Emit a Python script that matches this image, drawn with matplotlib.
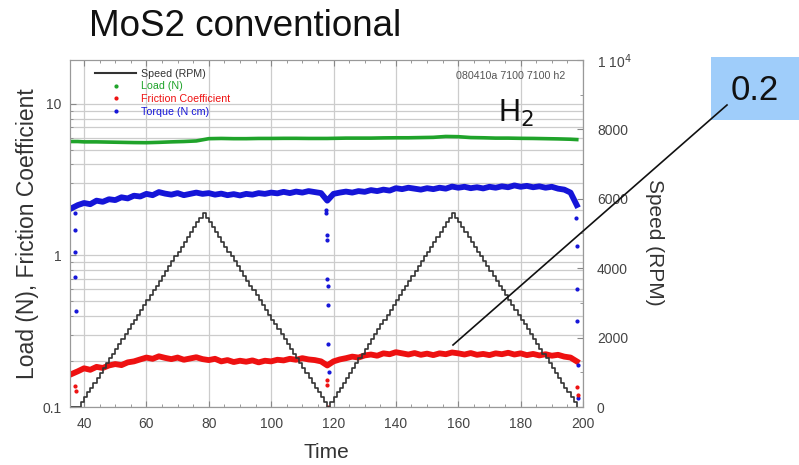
import matplotlib
matplotlib.use("Agg")
import matplotlib.pyplot as plt
from matplotlib.ticker import MultipleLocator, LogLocator, NullFormatter, FixedLocator, FixedFormatter
from matplotlib.lines import Line2D

plt.rcParams['font.family'] = ['Liberation Sans', 'DejaVu Sans']

# ---------------- data ----------------
t_load = [36, 38, 40, 44, 48, 52, 56, 60, 64, 68, 72, 76, 80, 84, 88, 92, 96, 100, 104, 108,
          112, 116, 118, 120, 124, 128, 132, 136, 140, 144, 148, 152, 156, 160, 164, 168, 172,
          176, 180, 184, 188, 192, 196, 198]
load = [5.65, 5.65, 5.62, 5.62, 5.6, 5.58, 5.56, 5.55, 5.58, 5.62, 5.65, 5.7, 5.9, 5.92, 5.9, 5.9,
        5.92, 5.92, 5.93, 5.93, 5.92, 5.92, 5.92, 5.93, 5.95, 5.95, 5.95, 5.97, 5.98, 5.98, 6.0,
        6.02, 6.1, 6.08, 6.0, 5.98, 5.95, 5.95, 5.93, 5.92, 5.9, 5.88, 5.85, 5.82]

t = list(range(36, 199, 2))
friction = [0.165, 0.172, 0.18, 0.176, 0.184, 0.181, 0.188, 0.192, 0.189, 0.197,
            0.2, 0.206, 0.212, 0.208, 0.216, 0.211, 0.207, 0.212, 0.205, 0.209,
            0.213, 0.207, 0.204, 0.208, 0.2, 0.204, 0.198, 0.202, 0.199, 0.203,
            0.197, 0.202, 0.2, 0.205, 0.203, 0.208, 0.205, 0.21, 0.206, 0.204,
            0.2, 0.188, 0.2, 0.206, 0.21, 0.215, 0.212, 0.219, 0.222, 0.218,
            0.226, 0.223, 0.23, 0.226, 0.222, 0.227, 0.221, 0.225, 0.22, 0.226,
            0.223, 0.229, 0.226, 0.222, 0.227, 0.221, 0.224, 0.22, 0.226, 0.223,
            0.228, 0.222, 0.226, 0.22, 0.224, 0.219, 0.223, 0.218, 0.221, 0.215,
            0.212, 0.2]
torque = [2.05, 2.15, 2.22, 2.18, 2.3, 2.26, 2.35, 2.32, 2.42, 2.38,
          2.48, 2.45, 2.55, 2.5, 2.62, 2.56, 2.52, 2.58, 2.5, 2.55,
          2.6, 2.55, 2.58, 2.52, 2.56, 2.5, 2.54, 2.49, 2.55, 2.52,
          2.58, 2.55, 2.6, 2.57, 2.63, 2.58, 2.64, 2.6, 2.66, 2.62,
          2.58, 2.3, 2.55, 2.6, 2.64, 2.6, 2.66, 2.63, 2.7, 2.66,
          2.72, 2.68, 2.78, 2.74, 2.8, 2.76, 2.72, 2.78, 2.74, 2.8,
          2.76, 2.85, 2.8, 2.84, 2.78, 2.82, 2.77, 2.84, 2.8, 2.86,
          2.82, 2.9, 2.84, 2.88, 2.82, 2.86, 2.8, 2.84, 2.76, 2.72,
          2.6, 2.15]

# outlier points
torque_out_t = [37, 37, 37.2, 37.2, 37.5, 117.5, 117.6, 117.8, 117.8, 118, 118.2, 118.2, 118.3, 118.4,
                197.8, 198, 198, 198.2, 198.3, 198.4]
torque_out_v = [1.91, 1.48, 1.05, 0.72, 0.43, 2.0, 1.91, 1.37, 1.27, 0.70, 0.63, 0.47, 0.26, 0.17,
                1.77, 1.15, 0.6, 0.37, 0.19, 0.115]
fric_out_t = [37, 37.3, 117.8, 118, 118.3, 198.2, 198.5]
fric_out_v = [0.138, 0.127, 0.15, 0.14, 0.1, 0.135, 0.12]

# speed staircase: one-second steps of the ramp (up levels, reused for each ramp)
ramp_up = [0, 140, 280, 420, 560, 700, 840, 980, 1120, 1260, 1400, 1540, 1680, 1820, 1960,
           2100, 2240, 2380, 2520, 2660, 2800, 2940, 3080, 3220, 3360, 3500, 3640, 3780, 3920,
           4060, 4200, 4340, 4480, 4620, 4760, 4900, 5040, 5180, 5320, 5460, 5600]
ramp_down = ramp_up[::-1]
speed_v = [0] + ramp_up + ramp_down[1:] + ramp_up[1:] + ramp_down[1:]
speed_t = [35.5] + list(range(38, 199))

x_ticks = [40, 60, 80, 100, 120, 140, 160, 180, 200]
right_ticks = [0, 2000, 4000, 6000, 8000, 10000]
right_labels = ["0", "2000", "4000", "6000", "8000", "1 10$^4$"]

# ---------------- figure ----------------
fig = plt.figure(figsize=(7.99, 4.65), dpi=100)
ax = fig.add_axes([70 / 799, 1 - 407 / 465, (583 - 70) / 799, (407 - 60) / 465])
ax2 = ax.twinx()

GREEN = "#1fa32a"
RED = "#ee1111"
BLUE = "#1515d8"
TICKC = "#444444"

ax.set_yscale("log")
ax.set_xlim(35.5, 200)
ax.set_ylim(0.1, 19.5)
ax2.set_ylim(0, 10000)

# grid
ax.xaxis.set_major_locator(FixedLocator(x_ticks))
ax.xaxis.set_minor_locator(MultipleLocator(5))
ax.yaxis.set_minor_locator(LogLocator(base=10, subs=range(2, 10), numticks=20))
ax.yaxis.set_minor_formatter(NullFormatter())
ax.yaxis.set_major_locator(FixedLocator([0.1, 1, 10]))
ax.yaxis.set_major_formatter(FixedFormatter(["0.1", "1", "10"]))
ax.grid(True, which="major", axis="x", color="#cccccc", lw=0.9)
ax.grid(True, which="both", axis="y", color="#cccccc", lw=0.9)
ax.set_axisbelow(True)

# series on the log axis
ax.plot(t_load, load, color=GREEN, lw=2.6, solid_joinstyle="round", zorder=3)
ax.plot(t, torque, color=BLUE, lw=4.2, solid_joinstyle="round", zorder=3)
ax.plot(t, friction, color=RED, lw=4.2, solid_joinstyle="round", zorder=3)
ax.plot(torque_out_t, torque_out_v, ls="none", marker="o", ms=2, color=BLUE, zorder=3)
ax.plot(fric_out_t, fric_out_v, ls="none", marker="o", ms=2, color=RED, zorder=3)

# speed on the right axis
ax2.plot(speed_t, speed_v, drawstyle="steps-post", color="#333333", lw=1.2, zorder=2)
ax2.yaxis.set_major_locator(FixedLocator(right_ticks))
ax2.yaxis.set_major_formatter(FixedFormatter(right_labels))
ax2.yaxis.set_minor_locator(MultipleLocator(1000))

for a in (ax, ax2):
    a.tick_params(which="both", direction="in", colors="#888888", labelcolor=TICKC, labelsize=10)
    a.tick_params(which="major", length=4)
    a.tick_params(which="minor", length=2.5)
    for s in a.spines.values():
        s.set_color("#999999")
ax.tick_params(axis="x", which="both", top=True, pad=7)
ax.tick_params(axis="y", pad=6)
ax2.tick_params(axis="y", pad=10)

ax.set_xlabel("Time", fontsize=15, color="#333333", labelpad=9)
ax.set_ylabel("Load (N), Friction Coefficient", fontsize=16.5, color="#333333")
ax.yaxis.set_label_coords(-0.06, 0.5)
ax2.set_ylabel("Speed (RPM)", fontsize=15, color="#333333", rotation=270, va="center")
ax2.yaxis.set_label_coords(1.14, 0.475)

# legend
handles = [Line2D([], [], color="#333333", lw=1.5),
           Line2D([], [], ls="none", marker="o", ms=2, color=GREEN),
           Line2D([], [], ls="none", marker="o", ms=2, color=RED),
           Line2D([], [], ls="none", marker="o", ms=2, color=BLUE)]
leg = ax.legend(handles, ["Speed (RPM)", "Load (N)", "Friction Coefficient", "Torque (N cm)"],
                loc="upper left", bbox_to_anchor=(0.035, 0.997), frameon=False, fontsize=7.7,
                handlelength=3.8, labelspacing=0.26, borderpad=0.2, handletextpad=0.5,
                labelcolor=["#333333", GREEN, RED, BLUE])

ax.text(0.965, 0.955, "080410a 7100 7100 h2", transform=ax.transAxes, fontsize=7.7,
        color="#555555", ha="right", va="center")
ax.text(0.87, 0.845, "H$_2$", transform=ax.transAxes, fontsize=22, ha="center", va="center",
        color="#111111")

# title
fig.text(89 / 799, 1 - 27 / 465, "MoS2 conventional", fontsize=26.5, ha="left", va="center",
         color="#111111")

# blue label box with leader line
fig.patches.append(plt.Rectangle((711 / 799, 1 - 120 / 465), 88 / 799, 63 / 465,
                                 transform=fig.transFigure, facecolor="#9fcdfa",
                                 edgecolor="none", zorder=5))
fig.text(755 / 799, 1 - 91 / 465, "0.2", fontsize=25, ha="center", va="center",
         color="#111111", zorder=6)
fig.lines.append(Line2D([727 / 799, 453 / 799], [1 - 105 / 465, 1 - 345 / 465],
                        transform=fig.transFigure, color="#111111", lw=1.2, zorder=6))

fig.savefig("out.png", dpi=100)
